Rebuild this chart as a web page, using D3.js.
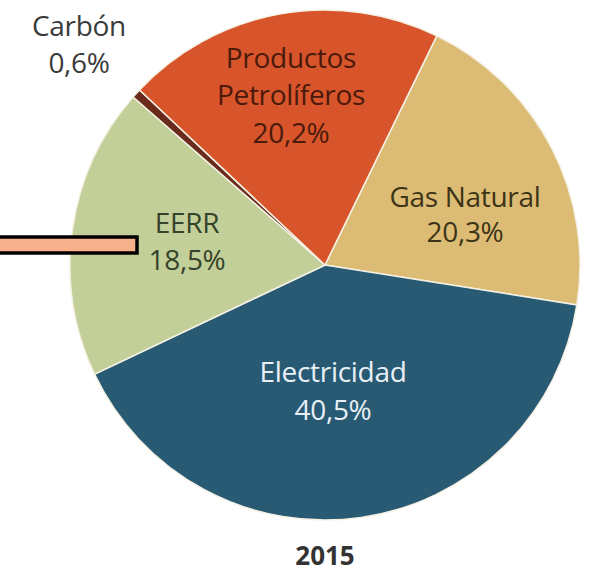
<!DOCTYPE html>
<html><head><meta charset="utf-8">
<script src="https://cdn.jsdelivr.net/npm/d3@7/dist/d3.min.js"></script>
<style>body{margin:0;background:#fff}svg{display:block}</style>
</head><body>
<svg id="c" width="603" height="572"></svg>
<script>
const categories = ["Gas Natural", "Electricidad", "EERR", "Carbón", "Productos Petrolíferos"];
const values = [20.3, 40.5, 18.5, 0.6, 20.2];
const valueLabels = ["20,3%", "40,5%", "18,5%", "0,6%", "20,2%"];
const colors = ["#dcbc74", "#295a74", "#c3cf99", "#6a2b1c", "#d8542a"];
const textColors = ["#3d3418", "#e8f0f5", "#34432a", "#3a3a3a", "#4a1a0c"];
const yearLabel = "2015";

const svg = d3.select("#c");
const cx = 325, cy = 265, R = 255;
const startA = 26 * Math.PI / 180;
const data = categories.map((c, i) => ({cat: c, v: values[i], lab: valueLabels[i], col: colors[i], tc: textColors[i]}));
const pie = d3.pie().value(d => d.v).sort(null).startAngle(startA).endAngle(startA + 2 * Math.PI);
const arc = d3.arc().innerRadius(0).outerRadius(R);
const g = svg.append("g").attr("transform", `translate(${cx},${cy})`);
const arcs = pie(data);
g.selectAll("path").data(arcs).join("path")
  .attr("d", arc).attr("fill", d => d.data.col)
  .attr("stroke", "#f4f1e4").attr("stroke-width", 1.5);

const font = "'Open Sans', sans-serif";
// label layout: x centre and line baselines (page px)
const layout = {
  "Gas Natural": {x: 465, lines: ["Gas Natural"], ys: [207, 242]},
  "Electricidad": {x: 333, lines: ["Electricidad"], ys: [382, 420]},
  "EERR": {x: 187, lines: ["EERR"], ys: [233, 270]},
  "Carbón": {x: 79, lines: ["Carbón"], ys: [36, 73]},
  "Productos Petrolíferos": {x: 291, lines: ["Productos", "Petrolíferos"], ys: [68, 105, 143]}
};
arcs.forEach(a => {
  const p = layout[a.data.cat];
  const lines = p.lines.concat([a.data.lab]);
  const t = svg.append("text").attr("text-anchor", "middle").attr("fill", a.data.tc)
    .attr("font-family", font).attr("font-size", 28).attr("font-weight", 500)
    .attr("letter-spacing", -0.3);
  lines.forEach((l, i) => t.append("tspan").attr("x", p.x).attr("y", p.ys[i]).text(l));
});

svg.append("text").attr("x", cx).attr("y", 565).attr("text-anchor", "middle")
  .attr("font-family", font).attr("font-size", 26).attr("font-weight", "bold")
  .attr("fill", "#333").text(yearLabel);

svg.append("rect").attr("x", -5).attr("y", 237).attr("width", 142).attr("height", 16)
  .attr("fill", "#f6b08c").attr("stroke", "#000").attr("stroke-width", 3.5);
</script>
</body></html>
